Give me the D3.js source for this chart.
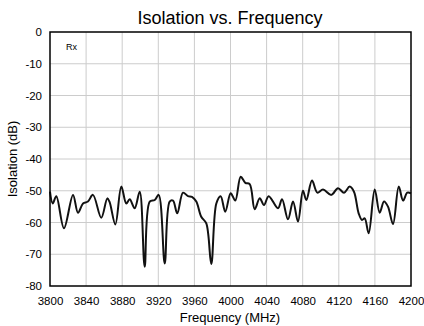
<!DOCTYPE html>
<html><head><meta charset="utf-8">
<script src="https://cdn.jsdelivr.net/npm/d3@7"></script>
<style>body{margin:0;background:#fff}svg{display:block}text{font-family:"Liberation Sans",Arial,sans-serif}</style>
</head><body><svg id="c" width="424" height="326"></svg>
<script>
const freq = [3800,3803,3807,3815.5,3825.5,3831,3836.6,3842,3847.6,3856.8,3863.5,3866,3872.4,3879,3884.5,3888.3,3893.8,3899.4,3904.9,3910.5,3916,3920.4,3927.1,3932.6,3936.3,3941,3947.4,3952.9,3957.3,3962.1,3967.6,3973.2,3978.7,3984.3,3989.1,3994.2,4000.2,4005.3,4011.3,4016.4,4021.3,4026.8,4032.4,4037.1,4042.3,4052.6,4057.1,4063.7,4069.3,4074.8,4080.3,4084,4090.3,4096.2,4102.5,4111.7,4119.1,4125.8,4132.1,4136.8,4142,4145.7,4148.7,4153.1,4159.8,4165.3,4170.1,4174.5,4180.1,4186.4,4191.2,4195.9,4200];
const isolation = [-50.3,-54,-51.7,-61.8,-51.3,-56.9,-54,-53.4,-51.3,-58.5,-52.4,-53.5,-60.6,-48.7,-54,-52.7,-55.5,-50.3,-73.9,-53.4,-52.9,-51.3,-72.9,-53.4,-53.1,-57.1,-50.6,-51.7,-51.9,-53.4,-58.2,-60.3,-73.1,-54,-51.7,-56.6,-50.8,-53.1,-45.6,-47.5,-47.9,-55.8,-52.4,-54.5,-51.7,-55.5,-52.7,-59,-53.4,-59.7,-50,-52.9,-46.8,-50.6,-49.6,-51.3,-49.2,-50.6,-48.7,-50.3,-57.1,-59.2,-58.7,-63.4,-49.6,-56.9,-53.4,-55,-60.5,-48.7,-53.1,-50.6,-50.8];
const xTicks = [3800,3840,3880,3920,3960,4000,4040,4080,4120,4160,4200];
const yTicks = [0,-10,-20,-30,-40,-50,-60,-70,-80];

const svg = d3.select("#c");
const L=50,R=411,T=32,B=286;
const x = d3.scaleLinear().domain([3800,4200]).range([L,R]);
const y = d3.scaleLinear().domain([-80,0]).range([B,T]);

svg.append("g").selectAll("line").data(xTicks.slice(1,-1)).join("line")
  .attr("x1",d=>x(d)).attr("x2",d=>x(d)).attr("y1",T).attr("y2",B)
  .attr("stroke","#cccccc").attr("stroke-width",1);
svg.append("g").selectAll("line").data(yTicks.slice(1,-1)).join("line")
  .attr("y1",d=>y(d)).attr("y2",d=>y(d)).attr("x1",L).attr("x2",R)
  .attr("stroke","#cccccc").attr("stroke-width",1);

const xa = svg.append("g").attr("transform",`translate(0,${B})`)
  .call(d3.axisBottom(x).tickValues(xTicks).tickFormat(d3.format("d")).tickSize(0).tickPadding(11));
xa.select(".domain").remove();
xa.selectAll("text").attr("font-size",11.5).attr("fill","#000").attr("font-family","Liberation Sans, Arial, sans-serif");
const ya = svg.append("g").attr("transform",`translate(${L},0)`)
  .call(d3.axisLeft(y).tickValues(yTicks).tickFormat(d=>d===0?"0":String(d)).tickSize(0).tickPadding(8));
ya.select(".domain").remove();
ya.selectAll("text").attr("font-size",11.5).attr("fill","#000").attr("font-family","Liberation Sans, Arial, sans-serif");

const line = d3.line().x((d,i)=>x(freq[i])).y(d=>y(d)).curve(d3.curveCatmullRom.alpha(0.5));
svg.append("path").datum(isolation).attr("d",line)
  .attr("fill","none").attr("stroke","#111").attr("stroke-width",2).attr("stroke-linejoin","round");

svg.append("rect").attr("x",L).attr("y",T).attr("width",R-L).attr("height",B-T)
  .attr("fill","none").attr("stroke","#000").attr("stroke-width",1.5);

svg.append("text").attr("x",230).attr("y",24).attr("text-anchor","middle").attr("font-size",18).text("Isolation vs. Frequency");
svg.append("text").attr("x",230).attr("y",322).attr("text-anchor","middle").attr("font-size",13).text("Frequency (MHz)");
svg.append("text").attr("transform","translate(17,159) rotate(-90)").attr("text-anchor","middle").attr("font-size",13).text("Isolation (dB)");
svg.append("text").attr("x",66).attr("y",50).attr("font-size",9).text("Rx");
</script></body></html>
